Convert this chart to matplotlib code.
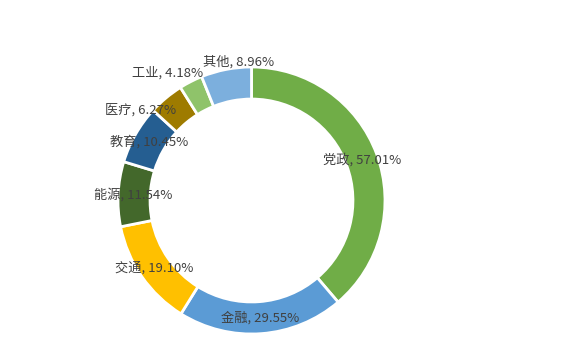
import matplotlib
matplotlib.use('Agg')
import numpy as np
import matplotlib.pyplot as plt

plt.rcParams['font.family'] = ['Noto Sans CJK SC', 'DejaVu Sans']

# data, clockwise from 12 o'clock
categories = ['党政', '金融', '交通', '能源', '教育', '医疗', '工业', '其他']
values = [57.01, 29.55, 19.10, 11.54, 10.45, 6.27, 4.18, 8.96]
colors = ['#70AD47', '#5B9BD5', '#FFC000', '#43682B', '#255E91', '#9E7B00', '#8FC36A', '#7CAFDD']

# label nudges (pixels, x right / y up) for the crowded small slices
nudge = {'医疗': (-35, 0), '工业': (-30, 22), '其他': (10, 23)}

fig = plt.figure(figsize=(5.73, 3.45), dpi=100)
ax = fig.add_axes([118 / 573, 11 / 345, 267 / 573, 267 / 345])

wedges, _ = ax.pie(values, colors=colors, startangle=90, counterclock=False,
                   radius=1.0, wedgeprops=dict(width=0.24, edgecolor='white', linewidth=2))

# labels centred on the ring
for w, name, v in zip(wedges, categories, values):
    ang = np.deg2rad((w.theta1 + w.theta2) / 2)
    r = 0.885
    dx, dy = nudge.get(name, (0, 0))
    ax.annotate(f'{name}, {v:.2f}%', (r * np.cos(ang), r * np.sin(ang)),
                xytext=(dx * 0.72, dy * 0.72), textcoords='offset points',
                ha='center', va='center', fontsize=9.5, color='#404040')

ax.set_xlim(-1, 1)
ax.set_ylim(-1, 1)
ax.set_aspect('equal')
ax.axis('off')

fig.savefig('out.png', dpi=100)
